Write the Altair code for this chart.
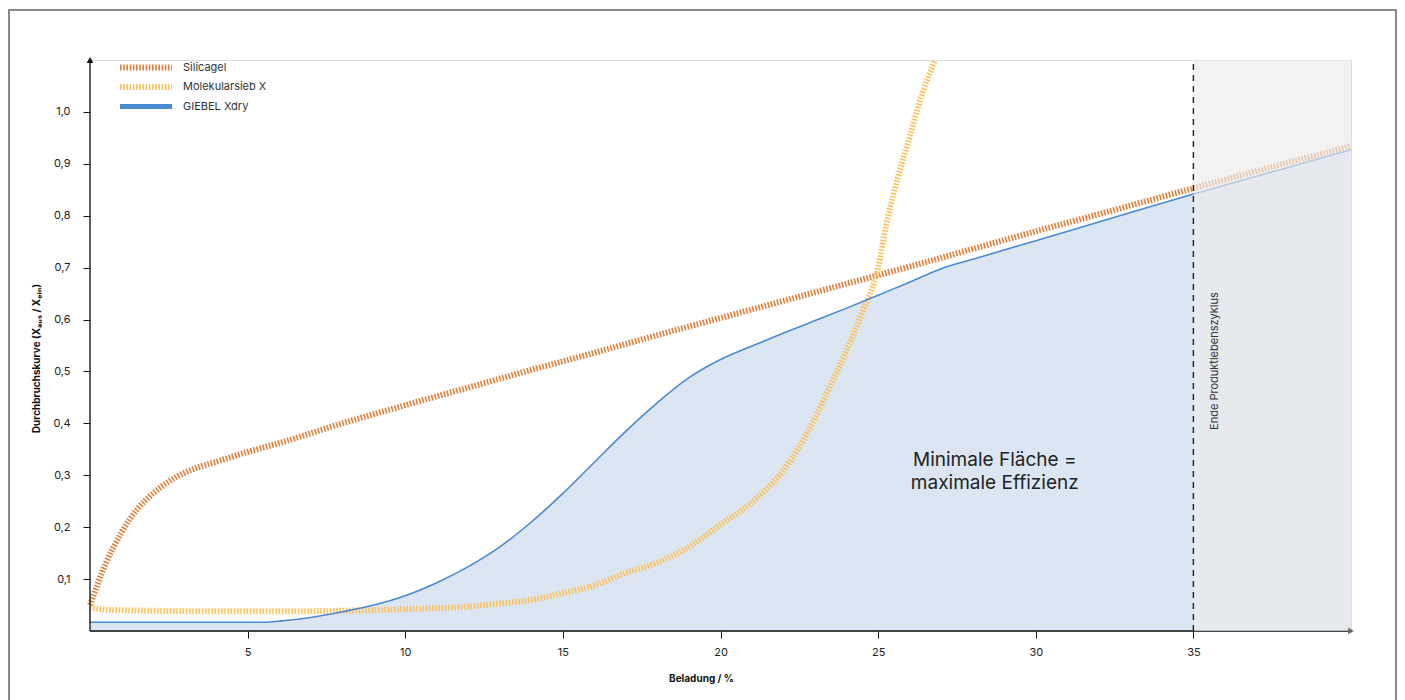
import altair as alt
import pandas as pd

# ---------------- data ----------------
series_names = ["Silicagel", "Molekularsieb X", "GIEBEL Xdry"]
series_colors = ["#E0803C", "#FDC25C", "#4A8AD0"]
area_color = "#DBE6F2"

sil_x = [0, 0.5, 1, 1.5, 2, 2.5, 3, 3.5, 4, 5, 6, 8, 10, 12, 14, 16, 18, 20, 22, 24, 26, 28, 30, 32, 35, 38, 40]
sil_y = [0.05, 0.13, 0.19, 0.235, 0.265, 0.288, 0.305, 0.317, 0.326, 0.345, 0.362, 0.400, 0.435, 0.469, 0.503,
         0.536, 0.570, 0.603, 0.636, 0.669, 0.702, 0.736, 0.770, 0.803, 0.853, 0.902, 0.934]

mol_x = [0, 0.5, 1, 2, 4, 6, 8, 10, 11, 12, 13, 14, 15, 16, 17, 18, 19, 20, 21, 22, 22.5, 23, 23.5, 24,
         24.5, 25, 25.25, 25.5, 26, 26.4, 26.8]
mol_y = [0.045, 0.041, 0.040, 0.039, 0.038, 0.038, 0.039, 0.042, 0.044, 0.047, 0.053, 0.060, 0.073, 0.088,
         0.112, 0.132, 0.162, 0.205, 0.248, 0.31, 0.355, 0.41, 0.475, 0.54, 0.615, 0.70, 0.78, 0.845,
         0.952, 1.035, 1.1]

gie_x = [0, 5, 5.5, 6, 7, 8, 9, 10, 11, 12, 13, 14, 15, 16, 17, 18, 19, 20, 21, 22, 23, 24, 25, 26, 27,
         28, 30, 32, 35, 38, 40]
gie_y = [0.017, 0.017, 0.017, 0.019, 0.026, 0.037, 0.05, 0.068, 0.093, 0.124, 0.162, 0.21, 0.265, 0.325,
         0.385, 0.44, 0.488, 0.523, 0.549, 0.574, 0.598, 0.622, 0.647, 0.672, 0.698, 0.716, 0.752, 0.788,
         0.842, 0.893, 0.927]

x_ticks = [5, 10, 15, 20, 25, 30, 35]
y_ticks = [0.1, 0.2, 0.3, 0.4, 0.5, 0.6, 0.7, 0.8, 0.9, 1.0]
x_domain = [0, 40]
y_domain = [0, 1.1]
end_of_life = 35

x_title = "Beladung / %"
y_title = "Durchbruchskurve (Xₐᵤₛ / Xₑᵢₙ)"
annotation_lines = ["Minimale Fläche =", "maximale Effizienz"]
annotation_at = (28.7, 0.33)
end_label = "Ende Produktlebenszyklus"
end_label_at = (35.7, 0.52)

# ---------------- chart ----------------
W, H = 1261, 571
FONT = "Inter"

xs = alt.Scale(domain=x_domain, nice=False, zero=False)
ys = alt.Scale(domain=y_domain, nice=False, zero=False)

x_axis = alt.Axis(values=x_ticks, domain=False, grid=False, tickSize=7, tickColor="#111", tickWidth=1,
                  labelPadding=8, labelFontSize=11, labelColor="#222", labelFont=FONT,
                  title=x_title, titleFont=FONT, titleFontSize=10, titleFontWeight="bold",
                  titleColor="#111", titleX=611, titleY=47, titleBaseline="middle", titleAlign="center")
y_axis = alt.Axis(values=y_ticks, domain=False, grid=False, tickSize=7, tickColor="#111", tickWidth=1,
                  labelPadding=13, labelFontSize=11, labelColor="#222", labelFont=FONT,
                  labelExpr="replace(format(datum.value, '.1f'), '.', ',')",
                  title=y_title, titleFont=FONT, titleFontSize=10, titleFontWeight="bold",
                  titleColor="#111", titleAngle=270, titleX=-54, titleY=298,
                  titleBaseline="middle", titleAlign="center")

def X(field="x"):
    return alt.X(f"{field}:Q", scale=xs, axis=x_axis)

def Y(field="y"):
    return alt.Y(f"{field}:Q", scale=ys, axis=y_axis)

sil = pd.DataFrame({"x": sil_x, "y": sil_y})
mol = pd.DataFrame({"x": mol_x, "y": mol_y})
gie = pd.DataFrame({"x": gie_x, "y": gie_y})

area = alt.Chart(gie).mark_area(color=area_color, interpolate="monotone").encode(x=X(), y=Y())

hatch = [1.6, 1.6]
sil_line = alt.Chart(sil).mark_line(color=series_colors[0], strokeWidth=6, strokeDash=hatch,
                                    interpolate="monotone").encode(x=X(), y=Y())
mol_line = alt.Chart(mol).mark_line(color=series_colors[1], strokeWidth=6, strokeDash=hatch,
                                    interpolate="monotone").encode(x=X(), y=Y())
gie_line = alt.Chart(gie).mark_line(color=series_colors[2], strokeWidth=1.6,
                                    interpolate="monotone").encode(x=X(), y=Y())

base = alt.Chart(pd.DataFrame({"a": [0]}))

x_axis_line = base.mark_rule(color="#111", strokeWidth=1.3).encode(
    x=alt.datum(x_domain[0]), x2=alt.datum(x_domain[1]), y=alt.datum(y_domain[0]))
y_axis_line = base.mark_rule(color="#111", strokeWidth=1.3).encode(
    x=alt.datum(x_domain[0]), y=alt.datum(y_domain[0]), y2=alt.datum(y_domain[1]))

overlay = base.mark_rect(color="#EBEBEB", opacity=0.66).encode(
    x=alt.datum(end_of_life), x2=alt.datum(x_domain[1]),
    y=alt.datum(y_domain[0]), y2=alt.datum(y_domain[1]))

end_rule = base.mark_rule(color="#222", strokeWidth=1.4, strokeDash=[6, 5]).encode(
    x=alt.datum(end_of_life), y=alt.datum(y_domain[0]), y2=alt.datum(y_domain[1]))

y_arrow = base.mark_point(shape="triangle-up", filled=True, color="#111", size=45, opacity=1).encode(
    x=alt.datum(x_domain[0]), y=alt.datum(y_domain[1]))
x_arrow = base.mark_point(shape="triangle-right", filled=True, color="#666", size=45, opacity=1).encode(
    x=alt.datum(x_domain[1]), y=alt.datum(y_domain[0]))

annotation = base.mark_text(font=FONT, fontSize=19, color="#222", lineHeight=23,
                            align="center", baseline="middle").encode(
    x=alt.datum(annotation_at[0]), y=alt.datum(annotation_at[1]), text=alt.value(annotation_lines))

end_text = base.mark_text(font=FONT, fontSize=11, color="#333", angle=270,
                          align="center", baseline="middle").encode(
    x=alt.datum(end_label_at[0]), y=alt.datum(end_label_at[1]), text=alt.value(end_label))

# manual legend (top-left)
legend_layers = []
for i, (name, col) in enumerate(zip(series_names, series_colors)):
    ypix = 7.5 + i * 19.5
    if i < 2:
        sym = base.mark_rule(color=col, strokeWidth=6, strokeDash=hatch)
    else:
        sym = base.mark_rule(color=col, strokeWidth=5)
    legend_layers.append(sym.encode(x=alt.value(30), x2=alt.value(82), y=alt.value(ypix)))
    legend_layers.append(base.mark_text(font=FONT, fontSize=11, color="#333", align="left",
                                        baseline="middle").encode(
        x=alt.value(93), y=alt.value(ypix), text=alt.value(name)))

frame = base.mark_rect(fill=None, stroke="#8A8A8A", strokeWidth=2).encode(
    x=alt.value(-81), x2=alt.value(1306), y=alt.value(-50), y2=alt.value(H + 75))

chart = alt.layer(
    area, sil_line, mol_line, gie_line, x_axis_line, y_axis_line, overlay, end_rule,
    y_arrow, x_arrow, annotation, end_text, *legend_layers, frame
).properties(
    width=W, height=H,
    autosize=alt.AutoSizeParams(type="none"),
    padding={"left": 82, "top": 52, "right": 46, "bottom": 80},
).configure_view(stroke=None).configure(font=FONT)

chart.save("out.html", embed_options={"renderer": "svg", "actions": False})
